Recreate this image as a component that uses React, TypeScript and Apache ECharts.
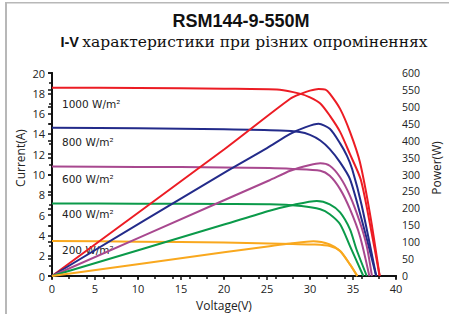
import React, { useEffect, useRef } from "react";
import * as echarts from "echarts";

// Irradiance levels
const irradianceLabels = ["1000 W/m²", "800 W/m²", "600 W/m²", "400 W/m²", "200 W/m²"];
const colors = ["#ec1c24", "#232b8a", "#a8488f", "#0b9a4a", "#f9a81e"];

// I-V curves: [voltage V, current A]
const iv1000: number[][] = [[0, 18.55], [10, 18.52], [20, 18.46], [26.5, 18.36], [28.8, 17.97], [30, 17.6], [31.2, 17.0], [32.3, 15.8], [33.5, 14.2], [34.65, 12.0], [35.9, 9.5], [37, 5.0], [38.1, 0]];
const iv800: number[][] = [[0, 14.6], [10, 14.55], [20, 14.45], [26.5, 14.33], [28.8, 14.18], [30, 13.9], [31.2, 13.35], [32.3, 12.5], [33.5, 11.2], [34.65, 9.55], [36, 5.6], [37.7, 0]];
const iv600: number[][] = [[0, 10.8], [10, 10.75], [20, 10.7], [25.3, 10.64], [28, 10.55], [31.2, 10.38], [32.3, 9.88], [33.5, 8.56], [34.65, 6.58], [35.8, 3.94], [36.9, 0]];
const iv400: number[][] = [[0, 7.15], [10, 7.12], [20, 7.1], [25.3, 7.08], [29, 6.9], [31.2, 6.58], [32.3, 6.09], [33.5, 5.1], [34.65, 2.95], [36.2, 0]];
const iv200: number[][] = [[0, 3.45], [10, 3.38], [20, 3.3], [25.3, 3.2], [28, 3.15], [30.4, 3.1], [32.3, 2.95], [33.5, 2.46], [34.65, 1.14], [35.5, 0]];

// P-V curves: [voltage V, power W]
const pv1000: number[][] = [[0, 0], [20, 374], [27.7, 524], [29, 539], [30, 548], [31, 553], [31.8, 551], [32.3, 539], [33.5, 494], [34.65, 426], [35.8, 337], [37, 180], [38.1, 0]];
const pv800: number[][] = [[0, 0], [20, 305], [25, 378], [27.7, 420], [29.5, 440], [31, 450], [32.3, 435], [33.5, 392], [34.3, 355], [34.9, 316], [36, 210], [37.7, 0]];
const pv600: number[][] = [[0, 0], [20, 224], [25.3, 283], [27.7, 311], [30, 328], [31.2, 333], [32.3, 326], [33.5, 292], [34.65, 237], [35.8, 159], [36.6, 88], [37.2, 0]];
const pv400: number[][] = [[0, 0], [20, 152], [25.3, 193], [28, 210], [30.8, 222], [32.3, 212], [33.5, 188], [34.65, 138], [35.4, 79], [36.6, 0]];
const pv200: number[][] = [[0, 0], [20, 70], [25.3, 88], [27.7, 96], [30.4, 103], [32.3, 93.5], [33.5, 74], [34.65, 34], [35.5, 0]];

const ivCurves = [iv1000, iv800, iv600, iv400, iv200];
const pvCurves = [pv1000, pv800, pv600, pv400, pv200];

const titleText = "RSM144-9-550M";
const subtitleBold = "I-V";
const subtitleText = "характеристики при різних опроміненнях";

export default function App() {
  const ref = useRef<HTMLDivElement>(null);
  useEffect(() => {
    if (!ref.current) return;
    const chart = echarts.init(ref.current, undefined, { renderer: "svg" });
    const axisLine = { show: true, lineStyle: { color: "#111", width: 2 } };
    const tickFont = { fontFamily: "Open Sans", fontSize: 11, color: "#222" };
    const series: any[] = [];
    ivCurves.forEach((d, i) => {
      series.push({
        type: "line", data: d, xAxisIndex: 0, yAxisIndex: 0, showSymbol: false,
        smooth: 0.25,
        lineStyle: { color: colors[i], width: 2 }, itemStyle: { color: colors[i] }, z: 3,
      });
    });
    pvCurves.forEach((d, i) => {
      series.push({
        type: "line", data: d, xAxisIndex: 0, yAxisIndex: 1, showSymbol: false,
        smooth: 0.25,
        lineStyle: { color: colors[i], width: 2 }, itemStyle: { color: colors[i] }, z: 3,
      });
    });
    const labelYs = [104, 142, 178.5, 214, 250];
    const graphic: any[] = [
      { type: "rect", shape: { x: 5, y: 2, width: 2, height: 312 }, style: { fill: "#b8b8b8" } },
      { type: "rect", shape: { x: 5, y: 2, width: 444, height: 1.5 }, style: { fill: "#b8b8b8" } },
      {
        type: "text", x: 241, y: 21,
        style: { text: titleText, fontFamily: "Liberation Sans", fontWeight: "bold", fontSize: 18, fill: "#111", textAlign: "center", textVerticalAlign: "middle" },
      },
      {
        type: "text", x: 244, y: 42,
        style: {
          text: "{a|" + subtitleBold + "} {b|" + subtitleText + "}",
          textAlign: "center", textVerticalAlign: "middle",
          rich: {
            a: { fontFamily: "Liberation Sans", fontWeight: "bold", fontSize: 14.5, fill: "#111" },
            b: { fontFamily: "DejaVu Serif", fontSize: 15.5, fill: "#111" },
          },
        },
      },
      {
        type: "text", x: 20, y: 158, rotation: Math.PI / 2,
        style: { text: "Current(A)", fontFamily: "Open Sans", fontSize: 12, fill: "#222", textAlign: "center", textVerticalAlign: "middle" },
      },
      {
        type: "text", x: 436, y: 168, rotation: Math.PI / 2,
        style: { text: "Power(W)", fontFamily: "Open Sans", fontSize: 12, fill: "#222", textAlign: "center", textVerticalAlign: "middle" },
      },
      ...irradianceLabels.map((t, i) => ({
        type: "text", x: 62, y: labelYs[i],
        style: { text: t, fontFamily: "DejaVu Sans", fontSize: 10.5, fill: "#222", textVerticalAlign: "middle" },
      })),
    ];
    chart.setOption({
      animation: false,
      backgroundColor: "#fff",
      grid: { left: 52, right: 53, top: 73, bottom: 38, outerBoundsMode: "none", containLabel: false },
      xAxis: [
        {
          type: "value", position: "bottom", min: 0, max: 40, interval: 5,
          axisLine, axisTick: { show: true, inside: false, length: 4, lineStyle: { color: "#111", width: 1.5 } },
          axisLabel: { ...tickFont, margin: 7 }, splitLine: { show: false },
          name: "Voltage(V)", nameLocation: "middle", nameGap: 23,
          nameTextStyle: { fontFamily: "Open Sans", fontSize: 12, color: "#222" },
        },
        {
          type: "value", position: "top", min: 0, max: 40, interval: 2,
          axisLine, axisTick: { show: true, inside: true, length: 3, lineStyle: { color: "#111", width: 1.5 } },
          axisLabel: { show: false }, splitLine: { show: false },
        },
      ],
      yAxis: [
        {
          type: "value", position: "left", min: 0, max: 20, interval: 2,
          axisLine, axisTick: { show: true, inside: false, length: 4, lineStyle: { color: "#111", width: 1.5 } },
          minorTick: { show: true, splitNumber: 2, length: 3, lineStyle: { color: "#111", width: 1.5 } },
          axisLabel: { ...tickFont, margin: 7 }, splitLine: { show: false }, minorSplitLine: { show: false },
        },
        {
          type: "value", position: "right", min: 0, max: 600, interval: 50,
          axisLine, axisTick: { show: true, inside: true, length: 4, lineStyle: { color: "#111", width: 1.5 } },
          axisLabel: { ...tickFont, fontSize: 10.5, margin: 6 }, splitLine: { show: false },
        },
      ],
      series,
      graphic,
    });
    return () => chart.dispose();
  }, []);
  return <div ref={ref} style={{ position: "fixed", left: 0, top: 0, width: 449, height: 314 }} />;
}
